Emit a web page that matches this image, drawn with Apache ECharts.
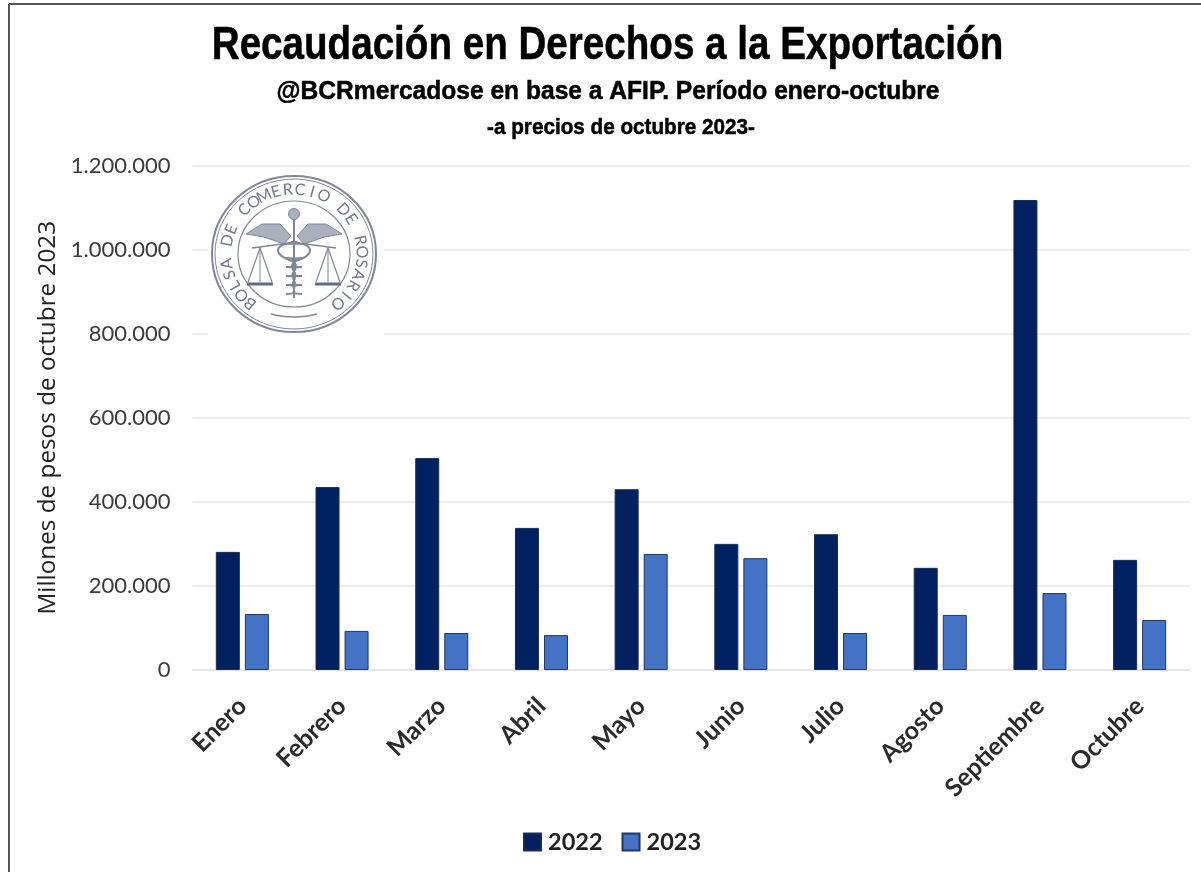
<!DOCTYPE html>
<html>
<head>
<meta charset="utf-8">
<style>html,body{margin:0;padding:0;background:#fff}#c{width:1201px;height:872px}</style>
<script src="https://cdn.jsdelivr.net/npm/echarts@6/dist/echarts.min.js"></script>
</head>
<body>
<div id="c"></div>
<script>
const categories = ['Enero','Febrero','Marzo','Abril','Mayo','Junio','Julio','Agosto','Septiembre','Octubre'];
const values2022 = [281000,435000,504000,338000,430000,300000,323000,243000,1118000,262000];
const values2023 = [133000,93000,88000,83000,276000,266000,88000,131000,183000,119000];
const titleMain = 'Recaudación en Derechos a la Exportación';
const subtitle1 = '@BCRmercadose en base a AFIP. Período enero-octubre';
const subtitle2 = '-a precios de octubre 2023-';
const yAxisName = 'Millones de pesos de octubre 2023';
const logoText = 'BOLSA DE COMERCIO DE ROSARIO';

const chart = echarts.init(document.getElementById('c'), null, {renderer:'canvas'});
const LOGO = '#7d8798';
const cx = 294, cy = 254;

function headline(text,x,y,size,sx){
  return {type:'text',x,y,scaleX:sx,z:10,
    style:{text,fill:'#000',stroke:'#000',lineWidth:0.5,font:'bold '+size+'px "Liberation Sans"',align:'center',verticalAlign:'middle'}};
}

function logoElements(){
  const els = [];
  els.push({type:'rect', shape:{x:208,y:172,width:176,height:166}, style:{fill:'#fff'}, z:5});
  const ell = (rx,ry,w)=>({type:'ellipse', shape:{cx,cy,rx,ry}, style:{fill:'none',stroke:LOGO,lineWidth:w}, z:6});
  els.push(ell(82,78,2), ell(79,75,1), ell(56,53,1.2));
  const n = logoText.length, a0 = -140, a1 = 140;
  for(let i=0;i<n;i++){
    const deg = a0 + (a1-a0)*i/(n-1), r = deg*Math.PI/180;
    els.push({type:'text', x:cx+68*Math.sin(r), y:cy-64.5*Math.cos(r), rotation:-r, z:6,
      style:{text:logoText[i], fill:'#6f7a8c', font:'16px Lato', align:'center', verticalAlign:'middle'}});
  }
  els.push({type:'bezierCurve', shape:{x1:271,y1:314,x2:317,y2:314,cpx1:285,cpy1:318,cpx2:303,cpy2:318}, style:{fill:'none',stroke:LOGO,lineWidth:1.4}, z:6});
  const wing = s=>[[cx+s*3,cy-18],[cx+s*14,cy-30],[cx+s*32,cy-30],[cx+s*48,cy-20],[cx+s*30,cy-17],[cx+s*10,cy-10]];
  els.push({type:'polygon', shape:{points:wing(1)}, style:{fill:'#aab1bd',stroke:LOGO,lineWidth:1}, z:6});
  els.push({type:'polygon', shape:{points:wing(-1)}, style:{fill:'#aab1bd',stroke:LOGO,lineWidth:1}, z:6});
  els.push({type:'line', shape:{x1:cx,y1:cy-36,x2:cx,y2:cy+44}, style:{stroke:LOGO,lineWidth:2}, z:6});
  els.push({type:'circle', shape:{cx,cy:cy-40,r:5.5}, style:{fill:'#aab1bd',stroke:LOGO}, z:6});
  for(const s of [1,-1]){
    els.push({type:'bezierCurve', shape:{x1:cx-s*3,y1:cy-12,x2:cx-s*2,y2:cy+8,cpx1:cx+s*26,cpy1:cy-10,cpx2:cx+s*18,cpy2:cy+4}, style:{fill:'none',stroke:LOGO,lineWidth:2}, z:6});
    for(let k=0;k<4;k++){
      const y0 = cy+4+k*9;
      els.push({type:'bezierCurve', shape:{x1:cx-s*8,y1:y0,x2:cx+s*8,y2:y0+9,cpx1:cx+s*(18-k*2),cpy1:y0,cpx2:cx-s*(18-k*2),cpy2:y0+9}, style:{fill:'none',stroke:LOGO,lineWidth:1.8}, z:6});
    }
  }
  els.push({type:'polyline', shape:{points:[[cx-42,cy-6],[cx-12,cy-10],[cx+12,cy-10],[cx+42,cy-6]]}, style:{fill:'none',stroke:LOGO,lineWidth:1.6}, z:6});
  for(const s of [1,-1]){
    const x = cx+s*34;
    els.push({type:'polyline', shape:{points:[[x-12,cy+28],[x,cy-6],[x+12,cy+28]]}, style:{fill:'none',stroke:LOGO,lineWidth:1.2}, z:6});
    els.push({type:'line', shape:{x1:x,y1:cy-6,x2:x,y2:cy+28}, style:{stroke:LOGO,lineWidth:1}, z:6});
    els.push({type:'line', shape:{x1:x-13,y1:cy+30,x2:x+13,y2:cy+30}, style:{stroke:'#5f6b80',lineWidth:3}, z:6});
  }
  return els;
}

chart.setOption({
  backgroundColor:'#fff',
  animation:false,
  grid:{left:192.5,top:165.5,width:997,height:504.5,containLabel:false},
  legend:{
    data:['2022','2023'],left:518,top:825,itemWidth:17,itemHeight:17,itemGap:19,icon:'rect',
    textStyle:{fontFamily:'Lato',fontWeight:'bold',fontSize:23.5,color:'#222',padding:[0,0,0,2]}
  },
  xAxis:{
    type:'category',data:categories,
    axisLine:{lineStyle:{color:'#e3e3e3',width:1.5}},axisTick:{show:false},
    axisLabel:{rotate:45,interval:0,margin:32,fontFamily:'Lato',fontWeight:'bold',fontSize:25,color:'#2b2b2b'}
  },
  yAxis:{
    type:'value',min:0,max:1200000,interval:200000,
    name:yAxisName,nameLocation:'middle',nameGap:131,nameRotate:90,
    nameTextStyle:{fontFamily:'"Open Sans"',fontSize:24.3,color:'#222'},
    axisLine:{show:false},axisTick:{show:false},
    splitLine:{lineStyle:{color:'#e8e8e8',width:1.5}},
    axisLabel:{margin:22,fontFamily:'Lato',fontSize:22,color:'#3a3a3a',
      formatter:v=>String(v).replace(/\B(?=(\d{3})+$)/g,'.')}
  },
  series:[
    {name:'2022',type:'bar',data:values2022,barWidth:24,barGap:'21%',
      itemStyle:{color:'#002060',borderColor:'#1a2c55',borderWidth:1}},
    {name:'2023',type:'bar',data:values2023,barWidth:24,
      itemStyle:{color:'#4472c4',borderColor:'#1f3864',borderWidth:1}}
  ],
  graphic:[
    {type:'line',shape:{x1:9,y1:4,x2:1201,y2:4},style:{stroke:'#555',lineWidth:2},z:10},
    {type:'line',shape:{x1:9,y1:4,x2:9,y2:872},style:{stroke:'#555',lineWidth:2},z:10},
    headline(titleMain,607.5,46,46,0.839),
    headline(subtitle1,608,92,25.5,0.964),
    headline(subtitle2,621,128,22,0.94),
    ...logoElements()
  ]
});
</script>
</body>
</html>
